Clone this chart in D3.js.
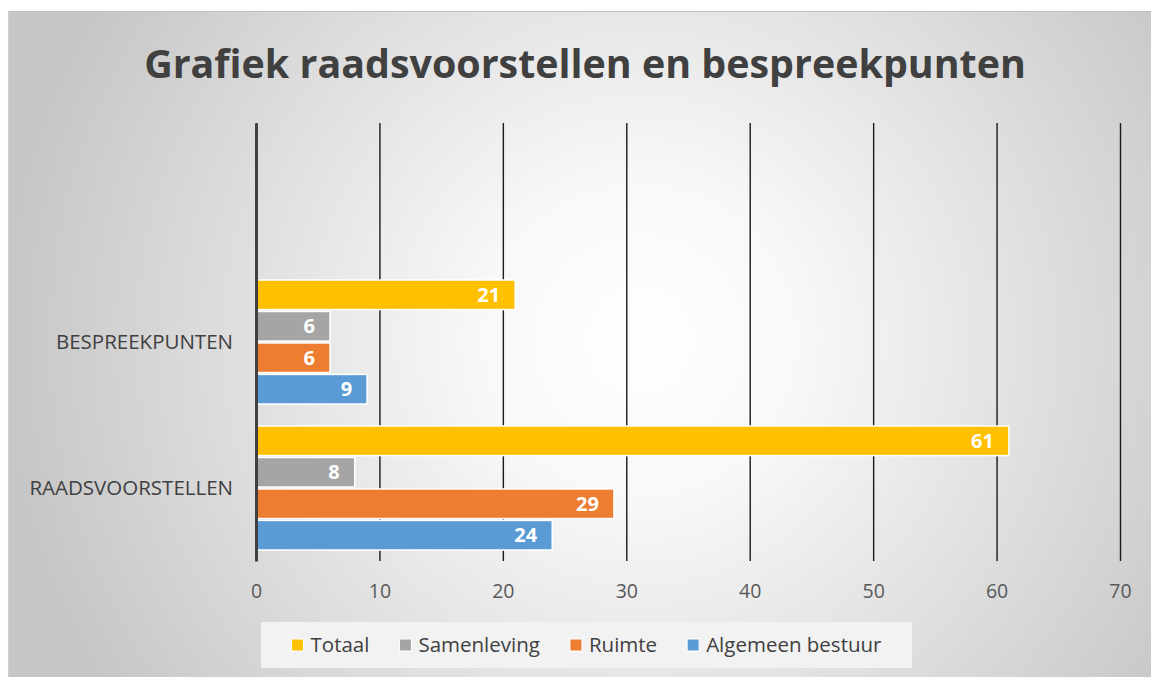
<!DOCTYPE html>
<html lang="nl">
<head>
  <meta charset="utf-8">
  <title>Grafiek raadsvoorstellen en bespreekpunten</title>
  <style>
    body { margin: 0; background: #fff; }
    svg { display: block; font-family: "Open Sans", "DejaVu Sans", sans-serif; }
  </style>
  <script src="https://d3js.org/d3.v7.min.js"></script>
</head>
<body>
<script>
    // data
    let categories = ["", "BESPREEKPUNTEN", "RAADSVOORSTELLEN"]
    let seriesNames = ["Totaal", "Samenleving", "Ruimte", "Algemeen bestuur"]
    let seriesColors = ["#FFC000", "#A5A5A5", "#ED7D31", "#5B9BD5"]
    let totaal = { BESPREEKPUNTEN: 21, RAADSVOORSTELLEN: 61 }
    let samenleving = { BESPREEKPUNTEN: 6, RAADSVOORSTELLEN: 8 }
    let ruimte = { BESPREEKPUNTEN: 6, RAADSVOORSTELLEN: 29 }
    let algemeen = { BESPREEKPUNTEN: 9, RAADSVOORSTELLEN: 24 }
    let xTicks = [0, 10, 20, 30, 40, 50, 60, 70]
    let title = "Grafiek raadsvoorstellen en bespreekpunten"

    let seriesValues = [totaal, samenleving, ruimte, algemeen]

    let width = 1151
    let height = 677

    let svg = d3.select("body").append("svg")
        .attr("width", width)
        .attr("height", height)

    // background
    let defs = svg.append("defs")
    let grad = defs.append("radialGradient")
        .attr("id", "bg")
        .attr("gradientUnits", "userSpaceOnUse")
        .attr("cx", 640).attr("cy", 340).attr("r", 640)
    grad.append("stop").attr("offset", "0%").attr("stop-color", "#ffffff")
    grad.append("stop").attr("offset", "25%").attr("stop-color", "#f8f8f8")
    grad.append("stop").attr("offset", "100%").attr("stop-color", "#c6c6c6")

    svg.append("rect")
        .attr("x", 8).attr("y", 11)
        .attr("width", width - 8).attr("height", height - 11)
        .attr("fill", "url(#bg)")
    svg.append("line")
        .attr("x1", 8).attr("x2", width).attr("y1", 11.5).attr("y2", 11.5)
        .attr("stroke", "#bdbdbd").attr("stroke-width", 1)
    svg.append("line")
        .attr("x1", 8.5).attr("x2", 8.5).attr("y1", 11).attr("y2", height)
        .attr("stroke", "#d0d0d0").attr("stroke-width", 1)

    // title, fitted to the width it has in the picture
    let titleText = svg.append("text")
        .attr("x", 585).attr("y", 78)
        .attr("text-anchor", "middle")
        .attr("font-weight", "bold")
        .attr("font-size", 40)
        .attr("fill", "#404040")
        .text(title)
    let tw = titleText.node().getComputedTextLength()
    titleText.attr("font-size", 40 * 882 / tw)

    // scales
    let plotTop = 123, plotBottom = 561
    let xScale = d3.scaleLinear().domain([0, 70]).range([256, 1120])
    let yScale = d3.scaleBand().domain(categories).range([plotTop, plotBottom])
    let inner = d3.scaleBand().domain(seriesNames)
        .range([11, yScale.bandwidth() - 11]).paddingInner(0.06)

    // grid lines
    let xAxis = d3.axisBottom(xScale).tickValues(xTicks)
        .tickSize(-(plotBottom - plotTop)).tickPadding(23)
    let gx = svg.append("g")
        .attr("transform", `translate(0, ${plotBottom})`)
        .call(xAxis)
    gx.select(".domain").remove()
    gx.selectAll(".tick line")
        .attr("stroke", "#1a1a1a")
        .attr("stroke-width", 1.4)
    gx.selectAll(".tick text")
        .attr("font-size", 19.5)
        .attr("fill", "#595959")
        .attr("font-family", "'Open Sans', sans-serif")

    // bars
    let rows = []
    categories.filter(c => c !== "").forEach(c => {
        seriesNames.forEach((s, i) => {
            rows.push({ cat: c, series: s, value: seriesValues[i][c], color: seriesColors[i] })
        })
    })

    let bars = svg.append("g")
    bars.selectAll("rect")
        .data(rows)
        .enter()
        .append("rect")
        .attr("x", xScale(0))
        .attr("y", d => yScale(d.cat) + inner(d.series))
        .attr("width", d => xScale(d.value) - xScale(0))
        .attr("height", inner.bandwidth())
        .attr("fill", d => d.color)
        .attr("stroke", "#ffffff")
        .attr("stroke-width", 1.5)

    bars.selectAll("text")
        .data(rows)
        .enter()
        .append("text")
        .attr("x", d => xScale(d.value) - 15)
        .attr("y", d => yScale(d.cat) + inner(d.series) + inner.bandwidth() / 2)
        .attr("dy", "0.36em")
        .attr("text-anchor", "end")
        .attr("font-size", 20)
        .attr("font-weight", "bold")
        .attr("fill", "#ffffff")
        .text(d => d.value)

    // vertical axis
    let yAxis = d3.axisLeft(yScale).tickSize(0).tickPadding(23)
    let gy = svg.append("g")
        .attr("transform", `translate(${xScale(0)}, 0)`)
        .call(yAxis)
    gy.select(".domain")
        .attr("stroke", "#404040")
        .attr("stroke-width", 3)
    gy.selectAll(".tick text")
        .attr("font-size", 20.5)
        .attr("fill", "#404040")
        .attr("font-family", "'Open Sans', sans-serif")

    // legend
    let legend = svg.append("g")
    legend.append("rect")
        .attr("x", 261).attr("y", 622)
        .attr("width", 651).attr("height", 46)
        .attr("fill", "#f2f2f2")

    let lx = 0
    let items = legend.append("g")
    seriesNames.forEach((s, i) => {
        let g = items.append("g").attr("transform", `translate(${lx}, 0)`)
        g.append("rect")
            .attr("x", 0).attr("y", -6)
            .attr("width", 12).attr("height", 12)
            .attr("fill", seriesColors[i])
            .attr("stroke", "#ffffff").attr("stroke-width", 1)
        let t = g.append("text")
            .attr("x", 19).attr("y", 0)
            .attr("dy", "0.35em")
            .attr("font-size", 20.5)
            .attr("fill", "#404040")
            .text(s)
        lx += 19 + t.node().getComputedTextLength() + 30
    })
    let itemsW = lx - 30
    items.attr("transform", `translate(${261 + (651 - itemsW) / 2}, 645)`)
</script>
</body>
</html>
